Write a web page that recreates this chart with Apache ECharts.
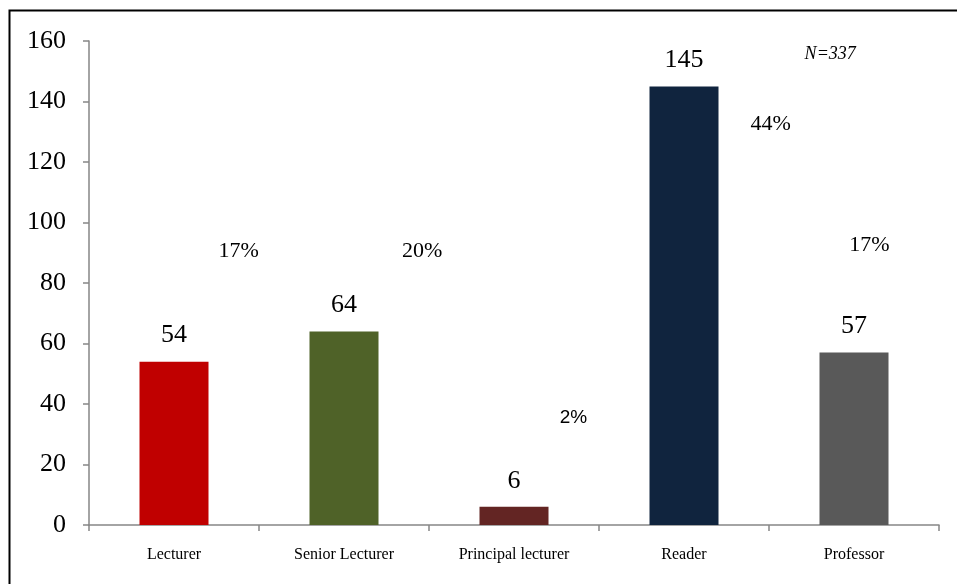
<!DOCTYPE html>
<html>
<head>
<meta charset="utf-8">
<script src="https://cdn.jsdelivr.net/npm/echarts@6/dist/echarts.min.js"></script>
<style>
  html, body { margin: 0; padding: 0; background: #fff; }
  #chart { width: 957px; height: 584px; }
</style>
</head>
<body>
<div id="chart"></div>
<script>
// Staff by academic grade
const categories = ['Lecturer', 'Senior Lecturer', 'Principal lecturer', 'Reader', 'Professor'];
const counts = [54, 64, 6, 145, 57];
const barColors = ['#C00000', '#4F6228', '#632523', '#10243E', '#595959'];
const yTicks = { min: 0, max: 160, interval: 20 };

// Share of total, shown as free-floating annotations
const shares = ['17%', '20%', '2%', '44%', '17%'];
// Annotation anchors: [category position, value position]
const shareAnchors = [[0.38, 90.5], [1.46, 90.5], [2.35, 35.5], [3.51, 132.5], [4.09, 92.5]];
const totalLabel = 'N=337';
const totalAnchor = [3.86, 155.5];

const serif = '"Liberation Serif", "Times New Roman", serif';
const axisGrey = '#868686';

const chart = echarts.init(document.getElementById('chart'));

const shareData = shares.map((s, i) => ({
  value: shareAnchors[i],
  label: i === 2
    ? { fontFamily: '"Liberation Sans", Arial, sans-serif', fontSize: 19 }
    : { fontFamily: serif, fontSize: 22 }
}));

chart.setOption({
  animation: false,
  backgroundColor: '#fff',
  grid: { left: 89, right: 18, top: 41, bottom: 59, containLabel: false },
  xAxis: [
    {
      type: 'category',
      data: categories,
      boundaryGap: true,
      axisLine: { lineStyle: { color: axisGrey, width: 1.5 } },
      axisTick: { show: true, length: 6, lineStyle: { color: axisGrey, width: 1.5 } },
      axisLabel: { color: '#000', fontFamily: serif, fontSize: 16, margin: 22 }
    },
    {
      type: 'value', min: -0.5, max: 4.5, show: false
    }
  ],
  yAxis: {
    type: 'value',
    min: yTicks.min, max: yTicks.max, interval: yTicks.interval,
    splitLine: { show: false },
    axisLine: { show: true, onZero: false, lineStyle: { color: axisGrey, width: 1.5 } },
    axisTick: { show: true, length: 6, lineStyle: { color: axisGrey, width: 1.5 } },
    axisLabel: { color: '#000', fontFamily: serif, fontSize: 26, margin: 23 }
  },
  series: [
    {
      type: 'bar',
      barWidth: 69,
      data: counts.map((v, i) => ({ value: v, itemStyle: { color: barColors[i] } })),
      label: {
        show: true, position: 'top', distance: 13,
        color: '#000', fontFamily: serif, fontSize: 26
      }
    },
    {
      type: 'scatter',
      xAxisIndex: 1,
      symbolSize: 0,
      silent: true,
      itemStyle: { opacity: 1 },
      data: shareData,
      label: {
        show: true, position: 'inside', color: '#000', opacity: 1,
        formatter: p => shares[p.dataIndex]
      }
    },
    {
      type: 'scatter',
      xAxisIndex: 1,
      symbolSize: 0,
      silent: true,
      itemStyle: { opacity: 1 },
      data: [totalAnchor],
      label: {
        show: true, position: 'inside', color: '#000', opacity: 1,
        fontFamily: serif, fontSize: 18, fontStyle: 'italic',
        formatter: totalLabel
      }
    }
  ],
  graphic: [
    {
      type: 'rect',
      shape: { x: 9.5, y: 10.5, width: 1000, height: 1000 },
      style: { fill: null, stroke: '#000', lineWidth: 2 },
      silent: true
    }
  ]
});
</script>
</body>
</html>
